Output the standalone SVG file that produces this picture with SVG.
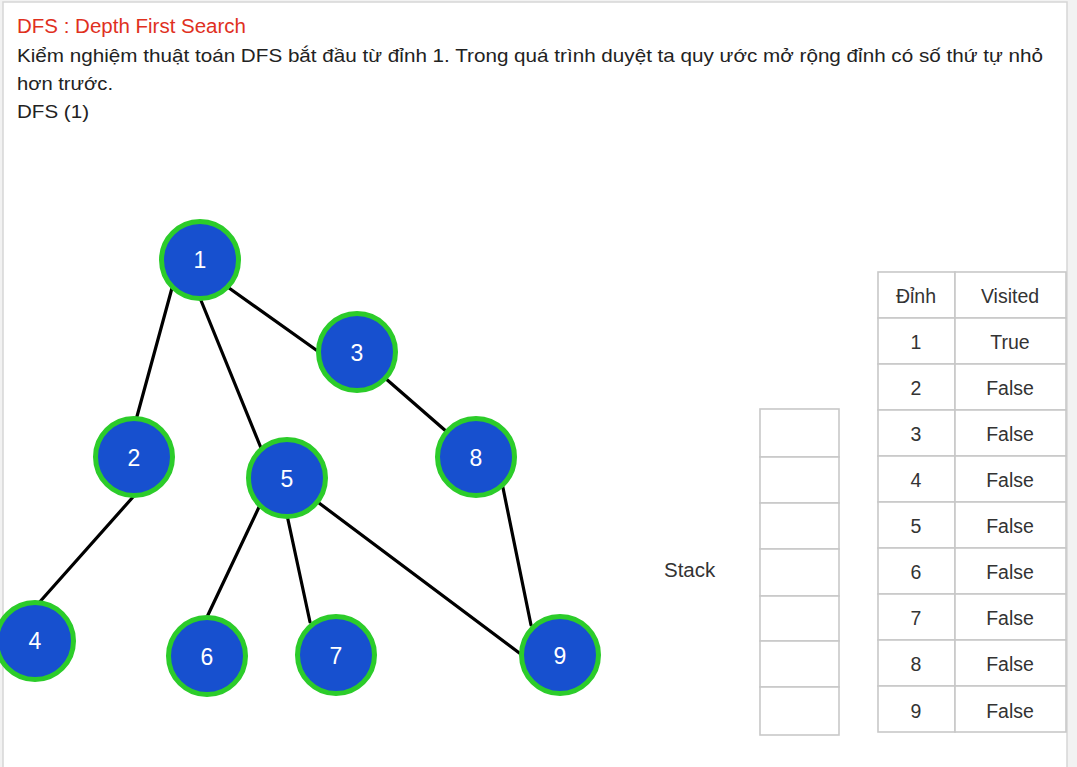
<svg xmlns="http://www.w3.org/2000/svg" width="1077" height="767" viewBox="0 0 1077 767">
<style>
.t{font-family:"Liberation Sans",Arial,sans-serif;fill:#222}
.node circle{fill:#1750cf;stroke:#2ccc2a;stroke-width:5}
.node text{font-family:"Liberation Sans",Arial,sans-serif;font-size:23px;fill:#fff;text-anchor:middle;dominant-baseline:central}
.edges line{stroke:#000;stroke-width:3.2;stroke-linecap:round}
.cell{fill:#fff;stroke:#c8c8c8;stroke-width:1.6}
.tc{font-family:"Liberation Sans",Arial,sans-serif;font-size:19.5px;fill:#333;text-anchor:middle;dominant-baseline:central}
</style>
<rect x="0" y="0" width="1077" height="767" fill="#f2f2f2"/>
<rect x="3" y="2" width="1064" height="770" fill="#fff" stroke="#d6d6d6" stroke-width="1.5"/>
<text class="t" x="17" y="33" font-size="19.5" style="fill:#e0301e" textLength="229" lengthAdjust="spacingAndGlyphs">DFS : Depth First Search</text>
<text class="t" x="17" y="62" font-size="17.8" textLength="1026" lengthAdjust="spacingAndGlyphs">Kiểm nghiệm thuật toán DFS bắt đầu từ đỉnh 1. Trong quá trình duyệt ta quy ước mở rộng đỉnh có số thứ tự nhỏ</text>
<text class="t" x="17" y="90" font-size="18.5" textLength="96" lengthAdjust="spacingAndGlyphs">hơn trước.</text>
<text class="t" x="17" y="118" font-size="19" textLength="72" lengthAdjust="spacingAndGlyphs">DFS (1)</text>
<g class="edges" id="connectors">
<line x1="172" y1="288" x2="136" y2="420"/>
<line x1="200" y1="298" x2="261" y2="448"/>
<line x1="229" y1="288" x2="319" y2="352"/>
<line x1="385" y1="378" x2="447" y2="432"/>
<line x1="133" y1="497" x2="37" y2="605"/>
<line x1="260" y1="505" x2="207" y2="617"/>
<line x1="287" y1="515" x2="310" y2="622"/>
<line x1="315" y1="500" x2="522" y2="655"/>
<line x1="502" y1="483" x2="531" y2="625"/>
</g>
<g class="node" id="node1"><circle cx="200" cy="260" r="38.5"/><text x="200" y="260">1</text></g>
<g class="node" id="node2"><circle cx="134" cy="457" r="38.5"/><text x="134" y="458">2</text></g>
<g class="node" id="node3"><circle cx="357" cy="352" r="38.5"/><text x="357" y="353">3</text></g>
<g class="node" id="node4"><circle cx="35" cy="641" r="38.5"/><text x="35" y="641">4</text></g>
<g class="node" id="node5"><circle cx="287" cy="478" r="38.5"/><text x="287" y="479">5</text></g>
<g class="node" id="node6"><circle cx="207" cy="656" r="38.5"/><text x="207" y="657">6</text></g>
<g class="node" id="node7"><circle cx="336" cy="655" r="38.5"/><text x="336" y="656">7</text></g>
<g class="node" id="node8"><circle cx="476" cy="457" r="38.5"/><text x="476" y="458">8</text></g>
<g class="node" id="node9"><circle cx="560" cy="655" r="38.5"/><text x="560" y="656">9</text></g>
<g id="stack">
<text class="t" x="664" y="577" font-size="20.5" style="fill:#333">Stack</text>
<rect class="cell" x="760" y="409" width="79" height="48"/>
<rect class="cell" x="760" y="457" width="79" height="46"/>
<rect class="cell" x="760" y="503" width="79" height="46"/>
<rect class="cell" x="760" y="549" width="79" height="47"/>
<rect class="cell" x="760" y="596" width="79" height="45"/>
<rect class="cell" x="760" y="641" width="79" height="46"/>
<rect class="cell" x="760" y="687" width="79" height="48"/>
</g>
<g id="table">
<rect class="cell" x="878" y="272" width="77" height="46"/><rect class="cell" x="955" y="272" width="111" height="46"/>
<text class="tc" x="916" y="296">Đỉnh</text><text class="tc" x="1010" y="296">Visited</text>
<rect class="cell" x="878" y="318" width="77" height="46"/><rect class="cell" x="955" y="318" width="111" height="46"/>
<text class="tc" x="916" y="342">1</text><text class="tc" x="1010" y="342">True</text>
<rect class="cell" x="878" y="364" width="77" height="46"/><rect class="cell" x="955" y="364" width="111" height="46"/>
<text class="tc" x="916" y="388">2</text><text class="tc" x="1010" y="388">False</text>
<rect class="cell" x="878" y="410" width="77" height="46"/><rect class="cell" x="955" y="410" width="111" height="46"/>
<text class="tc" x="916" y="434">3</text><text class="tc" x="1010" y="434">False</text>
<rect class="cell" x="878" y="456" width="77" height="46"/><rect class="cell" x="955" y="456" width="111" height="46"/>
<text class="tc" x="916" y="480">4</text><text class="tc" x="1010" y="480">False</text>
<rect class="cell" x="878" y="502" width="77" height="46"/><rect class="cell" x="955" y="502" width="111" height="46"/>
<text class="tc" x="916" y="526">5</text><text class="tc" x="1010" y="526">False</text>
<rect class="cell" x="878" y="548" width="77" height="46"/><rect class="cell" x="955" y="548" width="111" height="46"/>
<text class="tc" x="916" y="572">6</text><text class="tc" x="1010" y="572">False</text>
<rect class="cell" x="878" y="594" width="77" height="46"/><rect class="cell" x="955" y="594" width="111" height="46"/>
<text class="tc" x="916" y="618">7</text><text class="tc" x="1010" y="618">False</text>
<rect class="cell" x="878" y="640" width="77" height="46"/><rect class="cell" x="955" y="640" width="111" height="46"/>
<text class="tc" x="916" y="664">8</text><text class="tc" x="1010" y="664">False</text>
<rect class="cell" x="878" y="686" width="77" height="46"/><rect class="cell" x="955" y="686" width="111" height="46"/>
<text class="tc" x="916" y="711">9</text><text class="tc" x="1010" y="711">False</text>
</g>
</svg>
